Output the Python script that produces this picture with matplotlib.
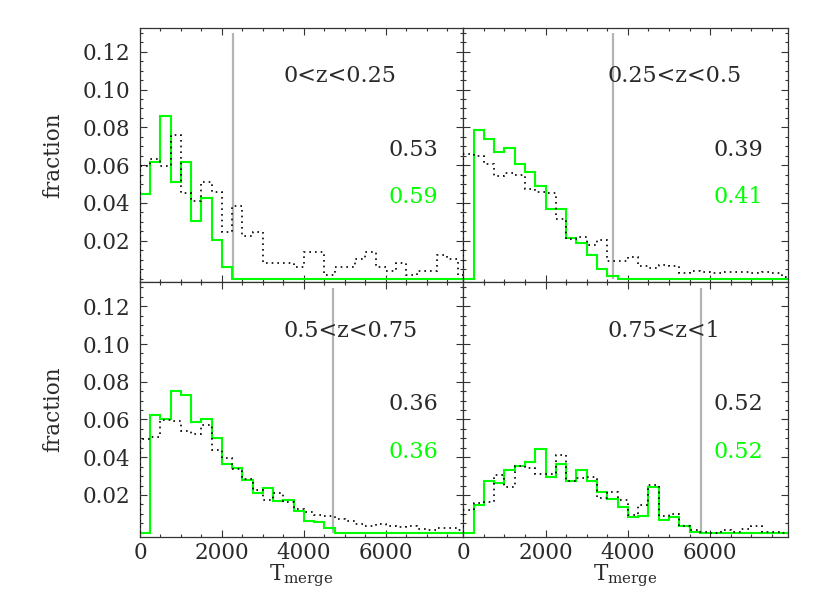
import numpy as np
import matplotlib
matplotlib.use("Agg")
import matplotlib.pyplot as plt
from matplotlib.ticker import MultipleLocator, FixedLocator

plt.rcParams['font.family'] = ['DejaVu Serif']
plt.rcParams['mathtext.fontset'] = 'dejavuserif'

# ---------------- data ----------------
bin_edges = np.arange(0, 8001, 250)   # T_merge bins

z_labels = ["0<z<0.25", "0.25<z<0.5", "0.5<z<0.75", "0.75<z<1"]
frac_black = ["0.53", "0.39", "0.36", "0.52"]
frac_green = ["0.59", "0.41", "0.36", "0.52"]
vline_x = [2277, 3630, 4714, 5777]

tl_green = [0.0448, 0.0614, 0.0862, 0.0513, 0.0614, 0.0306, 0.0428, 0.0204, 0.0062,
            0, 0, 0, 0, 0, 0, 0, 0, 0, 0, 0, 0, 0, 0, 0, 0, 0, 0, 0, 0, 0, 0, 0]
tl_black = [0.0593, 0.0634, 0.0593, 0.0761, 0.0455, 0.0411, 0.0513, 0.0460, 0.0248,
            0.0386, 0.0225, 0.0248, 0.0080, 0.0080, 0.0080, 0.0062, 0.0142, 0.0142,
            0.0021, 0.0062, 0.0062, 0.0101, 0.0142, 0.0062, 0.0041, 0.0080, 0.0021,
            0.0041, 0.0041, 0.0122, 0.0101, 0.0021]

tr_green = [0, 0.0784, 0.0738, 0.0669, 0.0690, 0.0605, 0.0566, 0.0490, 0.0370, 0.0370,
            0.0216, 0.0189, 0.0127, 0.0050, 0.0012,
            0, 0, 0, 0, 0, 0, 0, 0, 0, 0, 0, 0, 0, 0, 0, 0, 0]
tr_black = [0.0658, 0.0646, 0.0605, 0.0540, 0.0558, 0.0549, 0.0474, 0.0460, 0.0451,
            0.0313, 0.0207, 0.0221, 0.0177, 0.0204, 0.0094, 0.0094, 0.0112, 0.0065,
            0.0058, 0.0071, 0.0065, 0.0027, 0.0042, 0.0035, 0.0027, 0.0035, 0.0032,
            0.0035, 0.0027, 0.0035, 0.0027, 0.0010]

bl_green = [0, 0.0626, 0.0603, 0.0750, 0.0732, 0.0588, 0.0603, 0.0501, 0.0366, 0.0343,
            0.0277, 0.0212, 0.0235, 0.0167, 0.0171, 0.0114, 0.0064, 0.0057, 0.0025,
            0, 0, 0, 0, 0, 0, 0, 0, 0, 0, 0, 0, 0]
bl_black = [0.0496, 0.0505, 0.0597, 0.0590, 0.0539, 0.0523, 0.0571, 0.0439, 0.0398,
            0.0336, 0.0286, 0.0229, 0.0172, 0.0212, 0.0164, 0.0128, 0.0108, 0.0092,
            0.0091, 0.0073, 0.0060, 0.0046, 0.0037, 0.0046, 0.0037, 0.0030, 0.0037,
            0.0020, 0.0016, 0.0025, 0.0025, 0.0012]

br_green = [0, 0.0149, 0.0274, 0.0261, 0.0332, 0.0354, 0.0377, 0.0446, 0.0297, 0.0366,
            0.0272, 0.0331, 0.0272, 0.0217, 0.0180, 0.0137, 0.0082, 0.0091, 0.0242,
            0.0069, 0.0082, 0.0037, 0.0003, 0, 0, 0, 0, 0, 0, 0, 0, 0]
br_black = [0.0123, 0.0158, 0.0162, 0.0304, 0.0242, 0.0354, 0.0341, 0.0309, 0.0309,
            0.0411, 0.0272, 0.0292, 0.0297, 0.0185, 0.0217, 0.0171, 0.0092, 0.0146,
            0.0252, 0.0087, 0.0101, 0.0037, 0.0012, 0.0004, 0.0, 0.0016, 0.0004,
            0.0020, 0.0034, 0.0004, 0.0004, 0.0]

greens = [tl_green, tr_green, bl_green, br_green]
blacks = [tl_black, tr_black, bl_black, br_black]

xticks = [0, 2000, 4000, 6000]
xtick_labels = ["0", "2000", "4000", "6000"]
yticks = [0.02, 0.04, 0.06, 0.08, 0.10, 0.12]
ytick_labels = ["0.02", "0.04", "0.06", "0.08", "0.10", "0.12"]

# ---------------- figure ----------------
W, H = 830, 593
fig = plt.figure(figsize=(W / 100, H / 100), dpi=100)

L, M, R = 140 / W, 463.3 / W, 788 / W
T, MID, B = 1 - 27.7 / H, 1 - 282.3 / H, 1 - 536.5 / H
positions = [[L, MID, M - L, T - MID], [M, MID, R - M, T - MID],
             [L, B, M - L, MID - B], [M, B, R - M, MID - B]]

GREEN = '#00ff00'
TXT = '#2a2a2a'
FS = 15.5

for i, pos in enumerate(positions):
    ax = fig.add_axes(pos)
    ax.set_xlim(0, 7890)
    ax.set_ylim(-0.002, 0.1327)
    ax.vlines(vline_x[i], 0, 0.1297, color='#b4b4b4', lw=1.6, zorder=1)
    ax.stairs(greens[i], bin_edges, baseline=0, color=GREEN, lw=1.5, zorder=2)
    ax.stairs(blacks[i], bin_edges, baseline=0, color='black', lw=1.2,
              linestyle=(0, (1, 2.4)), zorder=3)

    ax.text(3500, 0.107, z_labels[i], ha='left', va='center', fontsize=16, color=TXT)
    ax.text(7280, 0.068, frac_black[i], ha='right', va='center', fontsize=16, color=TXT)
    ax.text(7280, 0.043, frac_green[i], ha='right', va='center', fontsize=16, color=GREEN)

    ax.xaxis.set_major_locator(FixedLocator(xticks))
    ax.xaxis.set_minor_locator(MultipleLocator(500))
    ax.yaxis.set_major_locator(FixedLocator(yticks))
    ax.yaxis.set_minor_locator(MultipleLocator(0.005))
    ax.tick_params(which='both', direction='in', top=True, right=True,
                   color='#333333', width=0.8)
    ax.tick_params(which='major', length=5.0)
    ax.tick_params(which='minor', length=2.5)
    ax.tick_params(axis='y', pad=7)
    ax.tick_params(axis='x', pad=4)
    for s in ax.spines.values():
        s.set_color('#333333')
        s.set_linewidth(0.9)

    if i in (0, 2):
        ax.set_yticklabels(ytick_labels, fontsize=FS, color=TXT)
    else:
        ax.set_yticklabels([])
    if i in (2, 3):
        ax.set_xticklabels(xtick_labels, fontsize=FS, color=TXT)
    else:
        ax.set_xticklabels([])

# y labels
fig.text(53 / W, 1 - 155 / H, 'fraction', rotation=90, ha='center', va='center',
         fontsize=FS, color=TXT)
fig.text(53 / W, 1 - 409.4 / H, 'fraction', rotation=90, ha='center', va='center',
         fontsize=FS, color=TXT)
# x labels
for xc in ((140 + 463.3) / 2 / W, (463.3 + 788) / 2 / W):
    fig.text(xc, 1 - 580 / H, r'$\mathrm{T}_{\mathrm{merge}}$', ha='center',
             va='baseline', fontsize=15.5, color=TXT)

fig.savefig('out.png', dpi=100)
